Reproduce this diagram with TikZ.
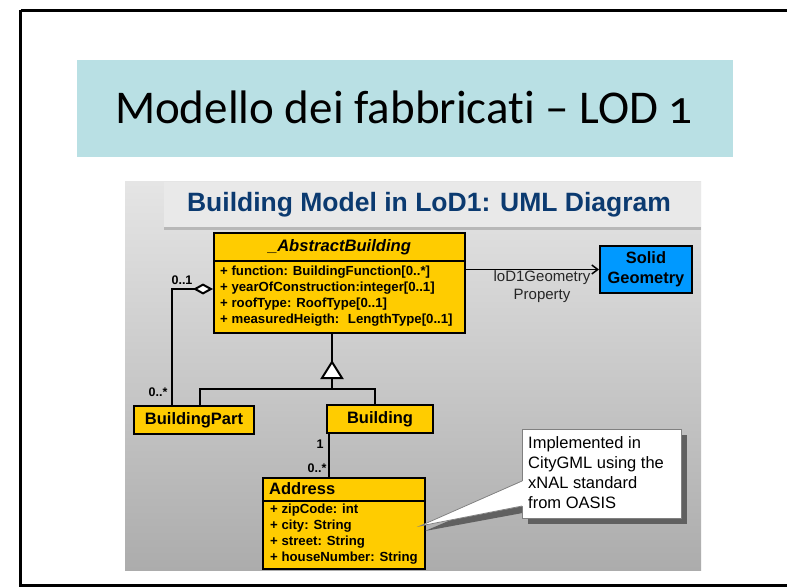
\documentclass[tikz,border=0pt]{standalone}
\usepackage{fontspec}
\setmainfont{Liberation Sans}
\newfontfamily\titlefont[Ligatures=NoCommon]{Carlito}
\usetikzlibrary{arrows.meta}
\definecolor{band}{RGB}{185,224,228}
\definecolor{uyellow}{RGB}{255,204,0}
\definecolor{ublue}{RGB}{0,153,255}
\definecolor{navy}{RGB}{11,58,112}
\definecolor{strip}{RGB}{233,233,233}
\definecolor{ptop}{RGB}{229,229,229}
\definecolor{pbot}{RGB}{172,172,172}
\definecolor{shadowgray}{RGB}{96,96,96}
\definecolor{notegray}{RGB}{128,128,128}
\begin{document}
\begin{tikzpicture}[x=1pt,y=-1pt,
  umlbox/.style={draw=black, line width=2pt, fill=uyellow, inner sep=0pt, anchor=north west},
  conn/.style={draw=black, line width=2pt},
  lbl/.style={font=\fontsize{12.5}{14}\selectfont\bfseries, inner sep=0pt},
  attr/.style={anchor=west, align=left, inner sep=0pt, font=\fontsize{13.2}{16.2}\selectfont\bfseries},
  ttl/.style={font=\fontsize{16.5}{19}\selectfont\bfseries, inner sep=0pt}]
\useasboundingbox (0,0) rectangle (787,588);
\clip (0,0) rectangle (787,588);
\fill[white] (0,0) rectangle (787,588);
\draw[line width=2.5pt] (20.5,10.5) -- (830,10.5) (20.5,10.5) -- (20.5,585.5) -- (830,585.5);
% title band
\node[fill=band, minimum width=656pt, minimum height=97pt, anchor=north west, inner sep=0pt] (titleband) at (77,60) {};
\node[anchor=base, inner sep=0pt, font=\titlefont\fontsize{47}{50}\selectfont] (title) at (404,124) {Modello dei fabbricati – LOD {\addfontfeatures{Numbers=OldStyle}1}};
% diagram panel
\shade[top color=ptop, bottom color=pbot] (125,182) rectangle (701,570);
\fill[black!28] (164,227) rectangle (701,230);
\fill[strip] (164,182) rectangle (701,227);
\node[text=navy, inner sep=0pt, font=\fontsize{26.5}{30}\selectfont\bfseries] (hdr) at (429,205) {Building Model in LoD1: UML Diagram};
% AbstractBuilding
\node[umlbox, minimum width=251pt, minimum height=28pt, font=\fontsize{16.6}{19}\selectfont\bfseries\itshape] (abs) at (213,232) {\_AbstractBuilding};
\node[umlbox, minimum width=251pt, minimum height=72pt] (absattr) at (213,260) {};
\node[attr] (abstxt) at (220,296) {+ function: BuildingFunction[0..*]\\+ yearOfConstruction:integer[0..1]\\+ roofType: RoofType[0..1]\\+ measuredHeigth:~ LengthType[0..1]};
% Solid Geometry
\node[draw=black, line width=2pt, fill=ublue, minimum width=92pt, minimum height=47pt, anchor=north west, inner sep=0pt, align=center, font=\fontsize{16.4}{20}\selectfont\bfseries] (solid) at (599,245) {Solid\\Geometry};
\draw[line width=1.5pt, -{Straight Barb[length=6pt,width=9pt]}] (absattr.east |- solid.west) -- (solid.west);
\node[font=\fontsize{15}{18}\selectfont, text=black!85, align=center, inner sep=0pt] (geolbl) at (542,287) {loD1Geometry\\Property};
% BuildingPart and Building
\node[umlbox, minimum width=120pt, minimum height=28pt, ttl] (bpart) at (133,405) {BuildingPart};
\node[umlbox, minimum width=106pt, minimum height=28pt, ttl] (bld) at (326,404) {Building};
% aggregation
\coordinate (aggA) at (213,289);
\coordinate (aggB) at (172,405);
\draw[conn, {Diamond[fill=white, length=20pt, width=11pt]}-] (aggA) -| (aggB);
\node[lbl] (m1) at (182,280) {0..1};
\node[lbl] (m2) at (158,392) {0..*};
% generalization
\coordinate (absGen) at (332,332);
\coordinate (triTop) at (332,362);
\coordinate (triBase) at (332,378);
\coordinate (genJ) at (332,389);
\coordinate (bpGen) at (200,405);
\coordinate (bldGen) at (375,404);
\draw[conn] (absGen) -- (triTop);
\draw[conn, fill=white, line join=miter] (triTop) -- ++(10,16) -- ++(-20,0) -- cycle;
\draw[conn] (triBase) -- (genJ);
\draw[conn] (genJ) -| (bpGen);
\draw[conn] (genJ) -| (bldGen);
% Address
\coordinate (bldAd) at (329,432);
\coordinate (adTop) at (329,477);
\draw[conn] (bldAd) -- (adTop);
\node[lbl] (m3) at (320,444) {1};
\node[lbl] (m4) at (317,468) {0..*};
\node[umlbox, minimum width=162pt, minimum height=23pt] (addr) at (262,477) {};
\node[anchor=west, inner sep=0pt, font=\fontsize{16.5}{19}\selectfont\bfseries] (addrtitle) at (269,489) {Address};
\node[umlbox, minimum width=162pt, minimum height=68pt] (addrattr) at (262,500) {};
\node[attr] (addrtxt) at (270,534) {+ zipCode: int\\+ city: String\\+ street: String\\+ houseNumber: String};
% callout
\fill[shadowgray] (528,435) rectangle (687,524);
\fill[shadowgray] (528,487) -- (425,531) -- (528,512) -- cycle;
\node[draw=notegray, fill=white, line width=0.75pt, minimum width=159pt, minimum height=89pt, anchor=north west, inner sep=0pt] (note) at (522,429) {};
\coordinate (ptA) at (522,481);
\coordinate (ptTip) at (420,526);
\coordinate (ptB) at (522,506);
\fill[white] (523,481) -- (ptTip) -- (523,506) -- cycle;
\draw[notegray, line width=0.75pt] (ptA) -- (ptTip) -- (ptB);
\node[anchor=west, align=left, inner sep=0pt, font=\fontsize{16.5}{20}\selectfont] (notetxt) at (528,473) {Implemented in\\CityGML using the\\xNAL standard\\from OASIS};
\end{tikzpicture}
\end{document}
